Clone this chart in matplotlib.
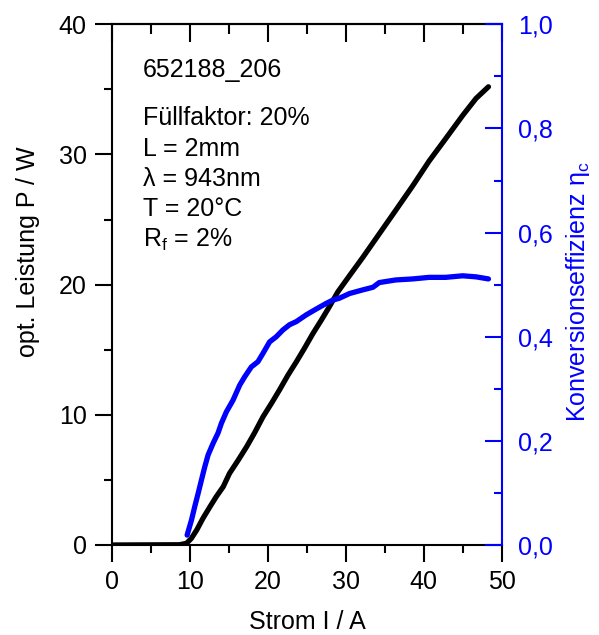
import matplotlib
matplotlib.use("Agg")
import matplotlib.pyplot as plt
from matplotlib.ticker import MultipleLocator, FuncFormatter

plt.rcParams['font.family'] = ['Liberation Sans', 'DejaVu Sans']
plt.rcParams['mathtext.fontset'] = 'custom'
plt.rcParams['mathtext.rm'] = 'Liberation Sans'
plt.rcParams['mathtext.it'] = 'Liberation Sans:italic'

# optical output power vs. current
current_p = [0, 8.7, 9.6, 10.2, 10.9, 11.7, 12.6, 13.4, 14.3, 15.1, 16.2, 17.3, 18.3,
             19.4, 20.5, 21.5, 22.6, 23.7, 24.7, 25.8, 26.9, 27.9, 29.0, 30.5, 32.2,
             34.3, 36.4, 38.6, 40.7, 42.8, 45.0, 46.7, 48.3]
power = [0, 0.02, 0.13, 0.5, 1.15, 2.05, 2.94, 3.71, 4.48, 5.5, 6.5, 7.55, 8.6, 9.85,
         10.9, 11.9, 13.05, 14.1, 15.1, 16.25, 17.3, 18.3, 19.45, 20.7, 22.1, 23.9,
         25.7, 27.6, 29.5, 31.2, 33.0, 34.3, 35.2]

# conversion efficiency vs. current
current_eta = [9.67, 10.23, 10.65, 11.08, 11.51, 11.93, 12.36, 12.99, 13.63, 14.07,
               14.71, 15.55, 16.41, 17.05, 17.9, 18.75, 19.39, 20.24, 21.1, 21.95,
               22.8, 23.66, 24.94, 26.2, 27.5, 28.3, 29.2, 30.5, 32.2, 33.5, 34.3,
               36.4, 38.6, 40.7, 42.8, 45.0, 46.7, 48.3]
efficiency = [0.019, 0.048, 0.074, 0.099, 0.125, 0.150, 0.173, 0.195, 0.215, 0.234,
              0.256, 0.278, 0.307, 0.323, 0.342, 0.352, 0.368, 0.390, 0.400, 0.413,
              0.423, 0.429, 0.442, 0.453, 0.464, 0.470, 0.474, 0.483, 0.490, 0.495,
              0.504, 0.509, 0.511, 0.514, 0.514, 0.517, 0.515, 0.511]

info_title = "652188_206"
info_lines = ["Füllfaktor: 20%", "L = 2mm", "λ = 943nm", "T = 20°C",
              r"R$_\mathregular{f}$ = 2%"]

FS = 18
BLUE = '#0000ff'

fig = plt.figure(figsize=(5.99, 6.35), dpi=100)
ax = fig.add_axes([111.7 / 599, 1 - 545 / 635, 390 / 599, (545 - 24.3) / 635])
ax2 = ax.twinx()

ax.plot(current_p, power, color='black', lw=3.8, solid_capstyle='round',
        solid_joinstyle='round', zorder=3)
ax2.plot(current_eta, efficiency, color=BLUE, lw=3.8, solid_capstyle='round',
         solid_joinstyle='round', zorder=3)

ax.set_xlim(0, 50)
ax.set_ylim(0, 40)
ax2.set_ylim(0, 1.0)

for sp in ax.spines.values():
    sp.set_linewidth(1.5)
ax.spines['right'].set_visible(False)
for name, sp in ax2.spines.items():
    sp.set_linewidth(1.5)
    if name != 'right':
        sp.set_visible(False)
ax2.spines['right'].set_color(BLUE)

ax.xaxis.set_major_locator(MultipleLocator(10))
ax.xaxis.set_minor_locator(MultipleLocator(5))
ax.yaxis.set_major_locator(MultipleLocator(10))
ax.yaxis.set_minor_locator(MultipleLocator(5))
ax.tick_params(axis='both', which='major', direction='out', length=12, width=1.5,
               labelsize=FS, pad=6)
ax.tick_params(axis='both', which='minor', direction='out', length=6, width=1.5)
ax.tick_params(axis='x', which='major', pad=6)

top = ax.secondary_xaxis('top')
top.xaxis.set_major_locator(MultipleLocator(10))
top.xaxis.set_minor_locator(MultipleLocator(5))
top.tick_params(which='major', direction='in', length=13, width=1.5, labeltop=False)
top.tick_params(which='minor', direction='in', length=7, width=1.5)
top.spines['top'].set_linewidth(1.5)

ax2.yaxis.set_major_locator(MultipleLocator(0.2))
ax2.yaxis.set_minor_locator(MultipleLocator(0.1))
ax2.yaxis.set_major_formatter(FuncFormatter(lambda v, p: f"{v:.1f}".replace('.', ',')))
ax2.tick_params(axis='y', which='major', direction='in', length=12, width=1.5,
                colors=BLUE, labelsize=FS, pad=12)
ax2.tick_params(axis='y', which='minor', direction='in', length=6, width=1.5,
                colors=BLUE)

fig.text(307 / 599, 1 - 622 / 635, "Strom I / A", fontsize=FS, ha='center', va='center')
fig.text(28 / 599, 1 - 252 / 635, "opt. Leistung P / W", fontsize=FS, ha='center',
         va='center', rotation=90)
fig.text(578 / 599, 1 - 292 / 635, r"Konversionseffizienz η$_\mathregular{c}$",
         fontsize=FS, ha='center', va='center', rotation=90, color=BLUE)

fig.text(143 / 599, 1 - 70 / 635, info_title, fontsize=FS, ha='left', va='center')
for i, line in enumerate(info_lines):
    fig.text(143 / 599, 1 - (118 + 30.5 * i) / 635, line, fontsize=FS, ha='left',
             va='center')

fig.savefig("out.png", dpi=100)
